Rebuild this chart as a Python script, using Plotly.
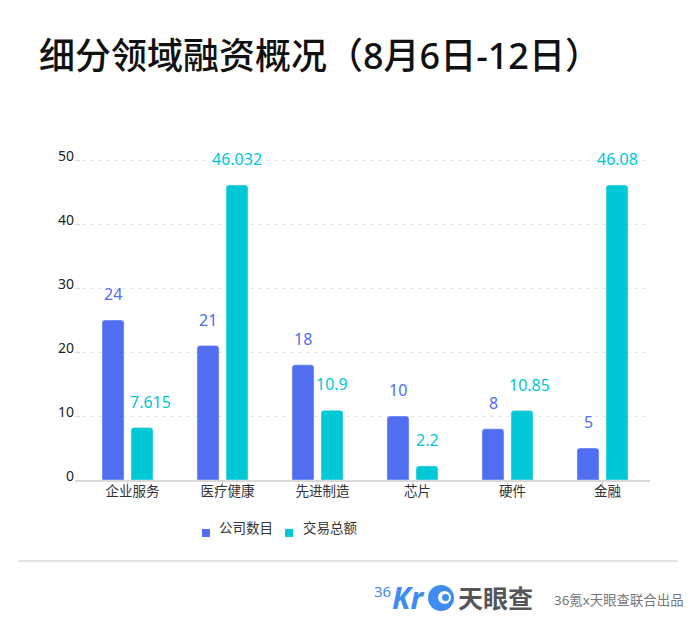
import plotly.graph_objects as go

categories = ['企业服务', '医疗健康', '先进制造', '芯片', '硬件', '金融']
# bar heights as drawn in the picture, the labels are the printed figures
company_bars = [25, 21, 18, 10, 8, 5]
amount_bars = [8.2, 46.1, 10.9, 2.2, 10.85, 46.1]
company_labels = ['24', '21', '18', '10', '8', '5']
amount_labels = ['7.615', '46.032', '10.9', '2.2', '10.85', '46.08']
amount_label_shift = [8, 0, 0, 0, 7, 0]
y_ticks = [0, 10, 20, 30, 40, 50]

BLUE = '#4f6ef2'
TEAL = '#00c8d7'
LOGO = '#3f8cf0'
FONT = 'Noto Sans, Noto Sans CJK SC'

# page body has an 8px margin, figure is shrunk to fit the window
PAGE = 8
LEFT, RIGHT, TOP, BOTTOM = 75, 650, 156, 480


def px(x):
    return (x - LEFT) / (RIGHT - LEFT)


def py(y):
    return (BOTTOM - y) / (BOTTOM - TOP)


def note(x, y, text, size, color, anchor='left', weight=None):
    fig.add_annotation(xref='paper', yref='paper', x=px(x), y=py(y), xanchor=anchor, yanchor='middle',
                       text=text, showarrow=False, font=dict(size=size, color=color, weight=weight))


def box(kind, x0, x1, y0, y1, color):
    fig.add_shape(type=kind, xref='paper', yref='paper', x0=px(x0), x1=px(x1), y0=py(y0), y1=py(y1),
                  fillcolor=color, line_width=0)


fig = go.Figure()
fig.add_bar(name='公司数目', x=categories, y=company_bars, marker_color=BLUE)
fig.add_bar(name='交易总额', x=categories, y=amount_bars, marker_color=TEAL)

for i, cat in enumerate(categories):
    fig.add_annotation(x=cat, y=company_bars[i], text=company_labels[i], showarrow=False,
                       xshift=-14.5, yshift=26, font=dict(size=16, color=BLUE))
    fig.add_annotation(x=cat, y=amount_bars[i], text=amount_labels[i], showarrow=False,
                       xshift=14.5 + amount_label_shift[i], yshift=26, font=dict(size=16, color=TEAL))

note(37, 56, '细分领域融资概况（8月6日-12日）', 36, '#111111', weight=500)

# legend
box('rect', 202, 210, 529, 537, BLUE)
note(217, 528, '公司数目', 13.5, '#333333')
box('rect', 285, 293, 529, 537, TEAL)
note(301, 528, '交易总额', 13.5, '#333333')

# footer
fig.add_shape(type='line', xref='paper', yref='paper', x0=px(18), x1=px(678), y0=py(561), y1=py(561),
              line=dict(color='#e3e3e3', width=2))
box('circle', 428, 454, 585, 611, LOGO)
box('circle', 438, 451, 591, 604, 'white')
box('circle', 442, 449, 594, 601, LOGO)
note(372, 591, '36', 15, LOGO)
note(390, 597, '<b><i>Kr</i></b>', 30, LOGO)
note(456, 598, '<b>天眼查</b>', 25, '#55565b')
note(552, 600, '36氪x天眼查联合出品', 13.4, '#777777')

fig.update_layout(
    width=700 - 2 * PAGE, height=630 - 2 * PAGE,
    margin=dict(l=LEFT - PAGE, r=700 - PAGE - RIGHT, t=TOP - PAGE, b=630 - PAGE - BOTTOM),
    paper_bgcolor='white', plot_bgcolor='white',
    font=dict(family=FONT, color='#333333', size=13),
    barmode='group', bargap=0.389, bargroupgap=0.241, barcornerradius=3,
    showlegend=False,
)
fig.update_xaxes(type='category', range=[-0.553, 5.5], showline=True, linecolor='#d9d9d9', linewidth=2,
                 ticks='outside', ticklen=4, tickcolor='#cccccc', ticklabelshift=5, ticklabelstandoff=-6,
                 showgrid=False, tickfont=dict(size=13.5, color='#333333'))
fig.update_yaxes(range=[0, 50.625], tickvals=y_ticks, showline=False, zeroline=False, gridcolor='#e2e2e2',
                 griddash='3px,5px', ticks='inside', ticklen=5, tickcolor='#dddddd', ticklabelshift=-4,
                 tickfont=dict(size=14, color='#222222'))

fig.write_html("out.html")
